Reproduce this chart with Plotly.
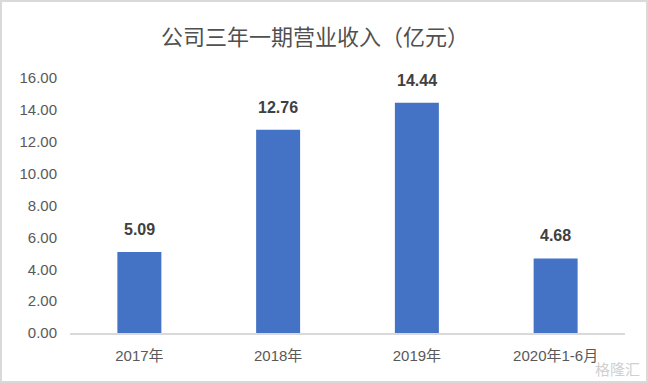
import plotly.graph_objects as go

categories = ["2017年", "2018年", "2019年", "2020年1-6月"]
revenue = [5.09, 12.76, 14.44, 4.68]
y_ticks = [0, 2, 4, 6, 8, 10, 12, 14, 16]
title_text = "公司三年一期营业收入（亿元）"

W, H = 648, 383
ml, mr, mt, mb = 70, 23, 78, 50
pw, ph = W - ml - mr, H - mt - mb

font_fam = "Liberation Sans, Noto Sans CJK SC, sans-serif"

fig = go.Figure(go.Bar(
    x=categories, y=revenue,
    marker=dict(color="#4472C4", line=dict(width=0)),
    hoverinfo="skip",
))

for c, v in zip(categories, revenue):
    fig.add_annotation(x=c, y=v, text=f"<b>{v:.2f}</b>", showarrow=False,
                       yanchor="bottom", yshift=12,
                       font=dict(family=font_fam, size=16, color="#404040"))

fig.add_annotation(xref="paper", yref="paper", x=(315 - ml)/pw, y=1 + (mt - 35)/ph,
                   text=title_text, showarrow=False, xanchor="center", yanchor="middle",
                   font=dict(family="Noto Sans CJK SC, sans-serif", size=22, color="#505050"))

# watermark
fig.add_annotation(xref="paper", yref="paper", x=(642 - ml)/pw, y=-(368 - mt - ph)/ph,
                   text="格隆汇", showarrow=False, xanchor="right", yanchor="middle",
                   font=dict(family="Noto Sans CJK SC, sans-serif", size=15, color="#d0d0d0"))

# outer frame
fig.add_shape(type="rect", xref="paper", yref="paper",
              x0=(1 - ml)/pw, x1=(W - 1 - ml)/pw,
              y0=-(mb - 1)/ph, y1=1 + (mt - 1)/ph,
              line=dict(color="#d9d9d9", width=2), layer="below")

fig.update_layout(
    width=W, height=H,
    margin=dict(l=ml, r=mr, t=mt, b=mb),
    paper_bgcolor="white", plot_bgcolor="white",
    bargap=0.683,
    showlegend=False,
    font=dict(family=font_fam, size=15, color="#595959"),
    xaxis=dict(showline=True, linecolor="#d9d9d9", linewidth=2, ticks="",
               showgrid=False, ticklabelstandoff=8,
               tickfont=dict(size=15, color="#595959",
               family="Liberation Sans, Noto Sans CJK SC, sans-serif")),
    yaxis=dict(range=[0, 16], tickvals=y_ticks,
               ticktext=[f"{t:.2f}" for t in y_ticks],
               showgrid=False, zeroline=False, showline=False, ticks="",
               ticklabelstandoff=12,
               tickfont=dict(size=15, color="#595959")),
)

fig.write_html("out.html")
